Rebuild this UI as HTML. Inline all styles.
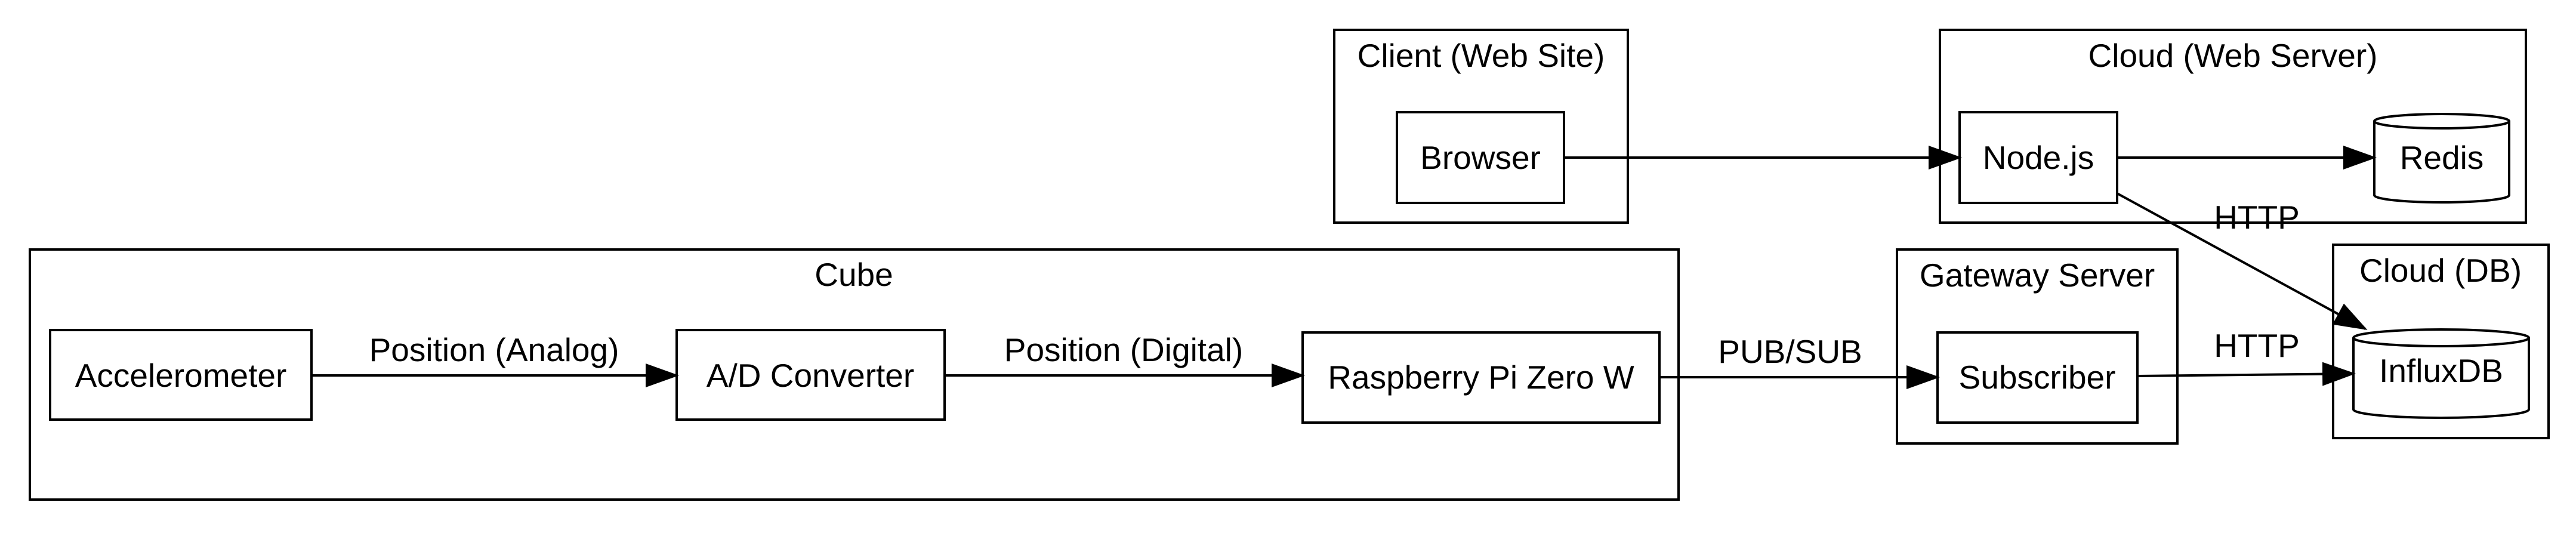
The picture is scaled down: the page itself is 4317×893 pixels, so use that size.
<!DOCTYPE html>
<html><head><style>html,body{margin:0;padding:0;background:#fff}</style></head>
<body>
<svg width="4317" height="888" viewBox="0 0 4317 888" xmlns="http://www.w3.org/2000/svg" font-family="'Liberation Sans', sans-serif" font-size="55" text-anchor="middle">
<defs>
<marker id="a" markerWidth="14" markerHeight="10" refX="13" refY="5" orient="auto" markerUnits="strokeWidth">
<path d="M0,0 L14,5 L0,10 z" fill="#000"/>
</marker>
</defs>
<g fill="none" stroke="#000" stroke-width="4">
<rect x="50" y="418" width="2763" height="419"/>
<rect x="2236" y="50" width="492" height="323"/>
<rect x="3251" y="50" width="982" height="323"/>
<rect x="3179" y="418" width="470" height="325"/>
<rect x="3910" y="410" width="361" height="324"/>
<rect x="84" y="553" width="438" height="150"/>
<rect x="1134" y="553" width="449" height="150"/>
<rect x="2183" y="557" width="598" height="151"/>
<rect x="2341" y="188" width="280" height="152"/>
<rect x="3284" y="188" width="264" height="152"/>
<rect x="3247" y="557" width="335" height="151"/>
<path d="M3979,203 L3979,327 A113,12 0 0 0 4205,327 L4205,203 A113,12 0 0 0 3979,203 A113,12 0 0 0 4205,203"/>
<path d="M3944,566 L3944,686 A147,14 0 0 0 4238,686 L4238,566 A147,14 0 0 0 3944,566 A147,14 0 0 0 4238,566"/>
<line x1="522" y1="629" x2="1134" y2="629" marker-end="url(#a)"/>
<line x1="1583" y1="629" x2="2183" y2="629" marker-end="url(#a)"/>
<line x1="2781" y1="632" x2="3247" y2="632" marker-end="url(#a)"/>
<line x1="2621" y1="264" x2="3284" y2="264" marker-end="url(#a)"/>
<line x1="3548" y1="264" x2="3979" y2="264" marker-end="url(#a)"/>
<line x1="3582" y1="630" x2="3944" y2="626" marker-end="url(#a)"/>
<line x1="3548" y1="324" x2="3964" y2="551" marker-end="url(#a)"/>
</g>
<g fill="#000">
<text x="1431" y="479">Cube</text>
<text x="2482" y="112">Client (Web Site)</text>
<text x="3742" y="112">Cloud (Web Server)</text>
<text x="3414" y="480">Gateway Server</text>
<text x="4090" y="472">Cloud (DB)</text>
<text x="303" y="648">Accelerometer</text>
<text x="1358" y="648">A/D Converter</text>
<text x="2482" y="651">Raspberry Pi Zero W</text>
<text x="2481" y="283">Browser</text>
<text x="3416" y="283">Node.js</text>
<text x="4092" y="283">Redis</text>
<text x="3414" y="651">Subscriber</text>
<text x="4091" y="640">InfluxDB</text>
<text x="828" y="605">Position (Analog)</text>
<text x="1883" y="605">Position (Digital)</text>
<text x="3000" y="608">PUB/SUB</text>
<text x="3782" y="598">HTTP</text>
<text x="3782" y="383">HTTP</text>
</g>
</svg>
</body></html>
